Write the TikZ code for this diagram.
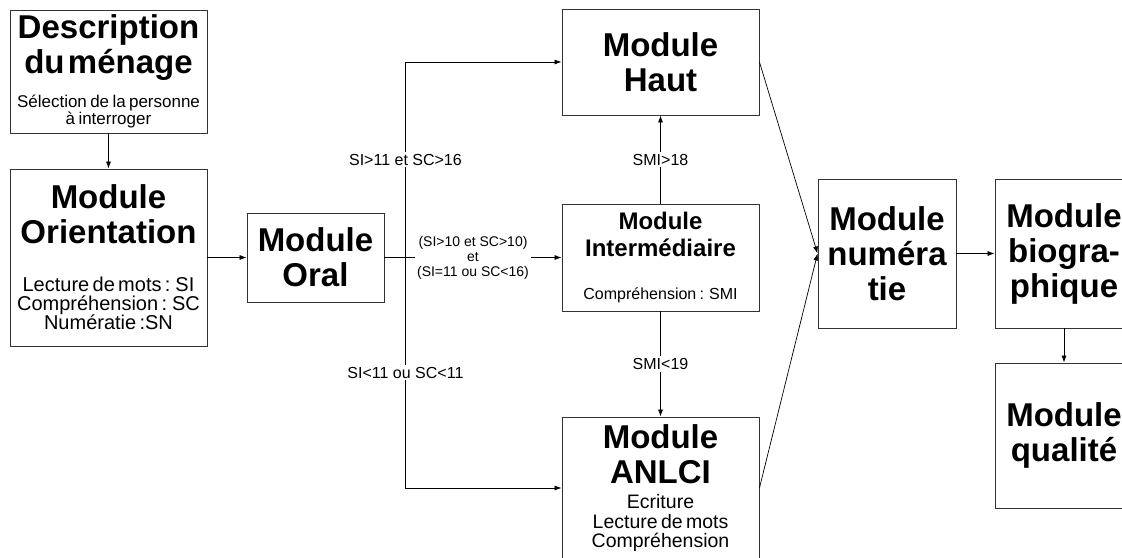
\documentclass[tikz,border=0pt]{standalone}
\usepackage{fontspec}
\setmainfont{Liberation Sans}
\usetikzlibrary{arrows.meta,positioning}
\newcommand{\titre}{\fontsize{33}{35}\selectfont\bfseries}
\newcommand{\titremoyen}{\fontsize{24}{27}\selectfont\bfseries}
\newcommand{\detail}[2]{\fontsize{#1}{#2}\selectfont\mdseries}
\begin{document}
\begin{tikzpicture}[x=1pt,y=-1pt,
    module/.style={draw=black!80, line width=0.9pt, rectangle, inner sep=0pt, align=center},
    fleche/.style={-{Latex[length=7pt,width=5pt]}, line width=0.7pt},
    cond/.style={fill=white, inner sep=2pt, font=\detail{16}{18}}]
  \useasboundingbox (0,0) rectangle (1122,557);
  \clip (0,0) rectangle (1122,557);
  % colonne de gauche
  \node[module, minimum width=197pt, minimum height=123pt, text width=197pt] (desc) at (108.5,71.5)
    {\titre Description\\du ménage\par\vspace{13pt}\detail{17}{16}Sélection de la personne\\à interroger\par};
  \node[module, minimum width=197pt, minimum height=177pt, text width=197pt] (orient) at (108.5,257.5)
    {\titre Module\\Orientation\par\vspace{29pt}\detail{20}{19}Lecture de mots : SI\\Compréhension : SC\\Numératie :SN\par};
  \node[module, minimum width=137pt, minimum height=89pt, text width=137pt] (oral) at (315.5,257.5)
    {\titre Module\\Oral\par};
  % modules du milieu
  \node[module, minimum width=197pt, minimum height=106pt, text width=197pt] (haut) at (660.5,62)
    {\titre Module\\Haut\par};
  \node[module, minimum width=197pt, minimum height=107pt, text width=197pt] (inter) at (660.5,257.5)
    {\titremoyen Module\\Intermédiaire\par\vspace{26pt}\detail{16}{17}Compréhension : SMI\par};
  \node[module, minimum width=197pt, minimum height=142pt, text width=197pt] (anlci) at (660.5,488)
    {\titre Module\\ANLCI\par\vspace{6pt}\detail{19.5}{19.5}Ecriture\\Lecture de mots\\Compréhension\par};
  % modules de droite
  \node[module, minimum width=138pt, minimum height=149pt, text width=138pt] (num) at (887,253.5)
    {\titre Module\\numéra\\tie\par};
  \node[module, minimum width=138pt, minimum height=149pt, text width=138pt] (bio) at (1064,253.5)
    {\titre Module\\biogra-\\phique\par};
  \node[module, minimum width=138pt, minimum height=145pt, text width=138pt] (qual) at (1064,435.5)
    {\titre Module\\qualité\par};
  % liaisons
  \draw[fleche] (desc) -- (orient);
  \draw[fleche] (orient) -- (oral);
  \coordinate[right=21pt of oral.east] (embranchement);
  \draw[fleche] (oral) -- node[cond, align=center, font=\detail{14}{15}] {(SI>10 et SC>10)\\et\\(SI=11 ou SC<16)} (inter);
  \draw[fleche] (embranchement) |- node[cond, pos=0.25] {SI>11 et SC>16} (haut);
  \draw[fleche] (embranchement) |- node[cond, pos=0.25] {SI<11 ou SC<11} (anlci);
  \draw[fleche] (inter) -- node[cond] {SMI>18} (haut);
  \draw[fleche] (inter) -- node[cond] {SMI<19} (anlci);
  \draw[fleche] (haut.east) -- (num.west);
  \draw[fleche] (anlci.east) -- (num.west);
  \draw[fleche] (num) -- (bio);
  \draw[fleche] (bio) -- (qual);
\end{tikzpicture}
\end{document}
